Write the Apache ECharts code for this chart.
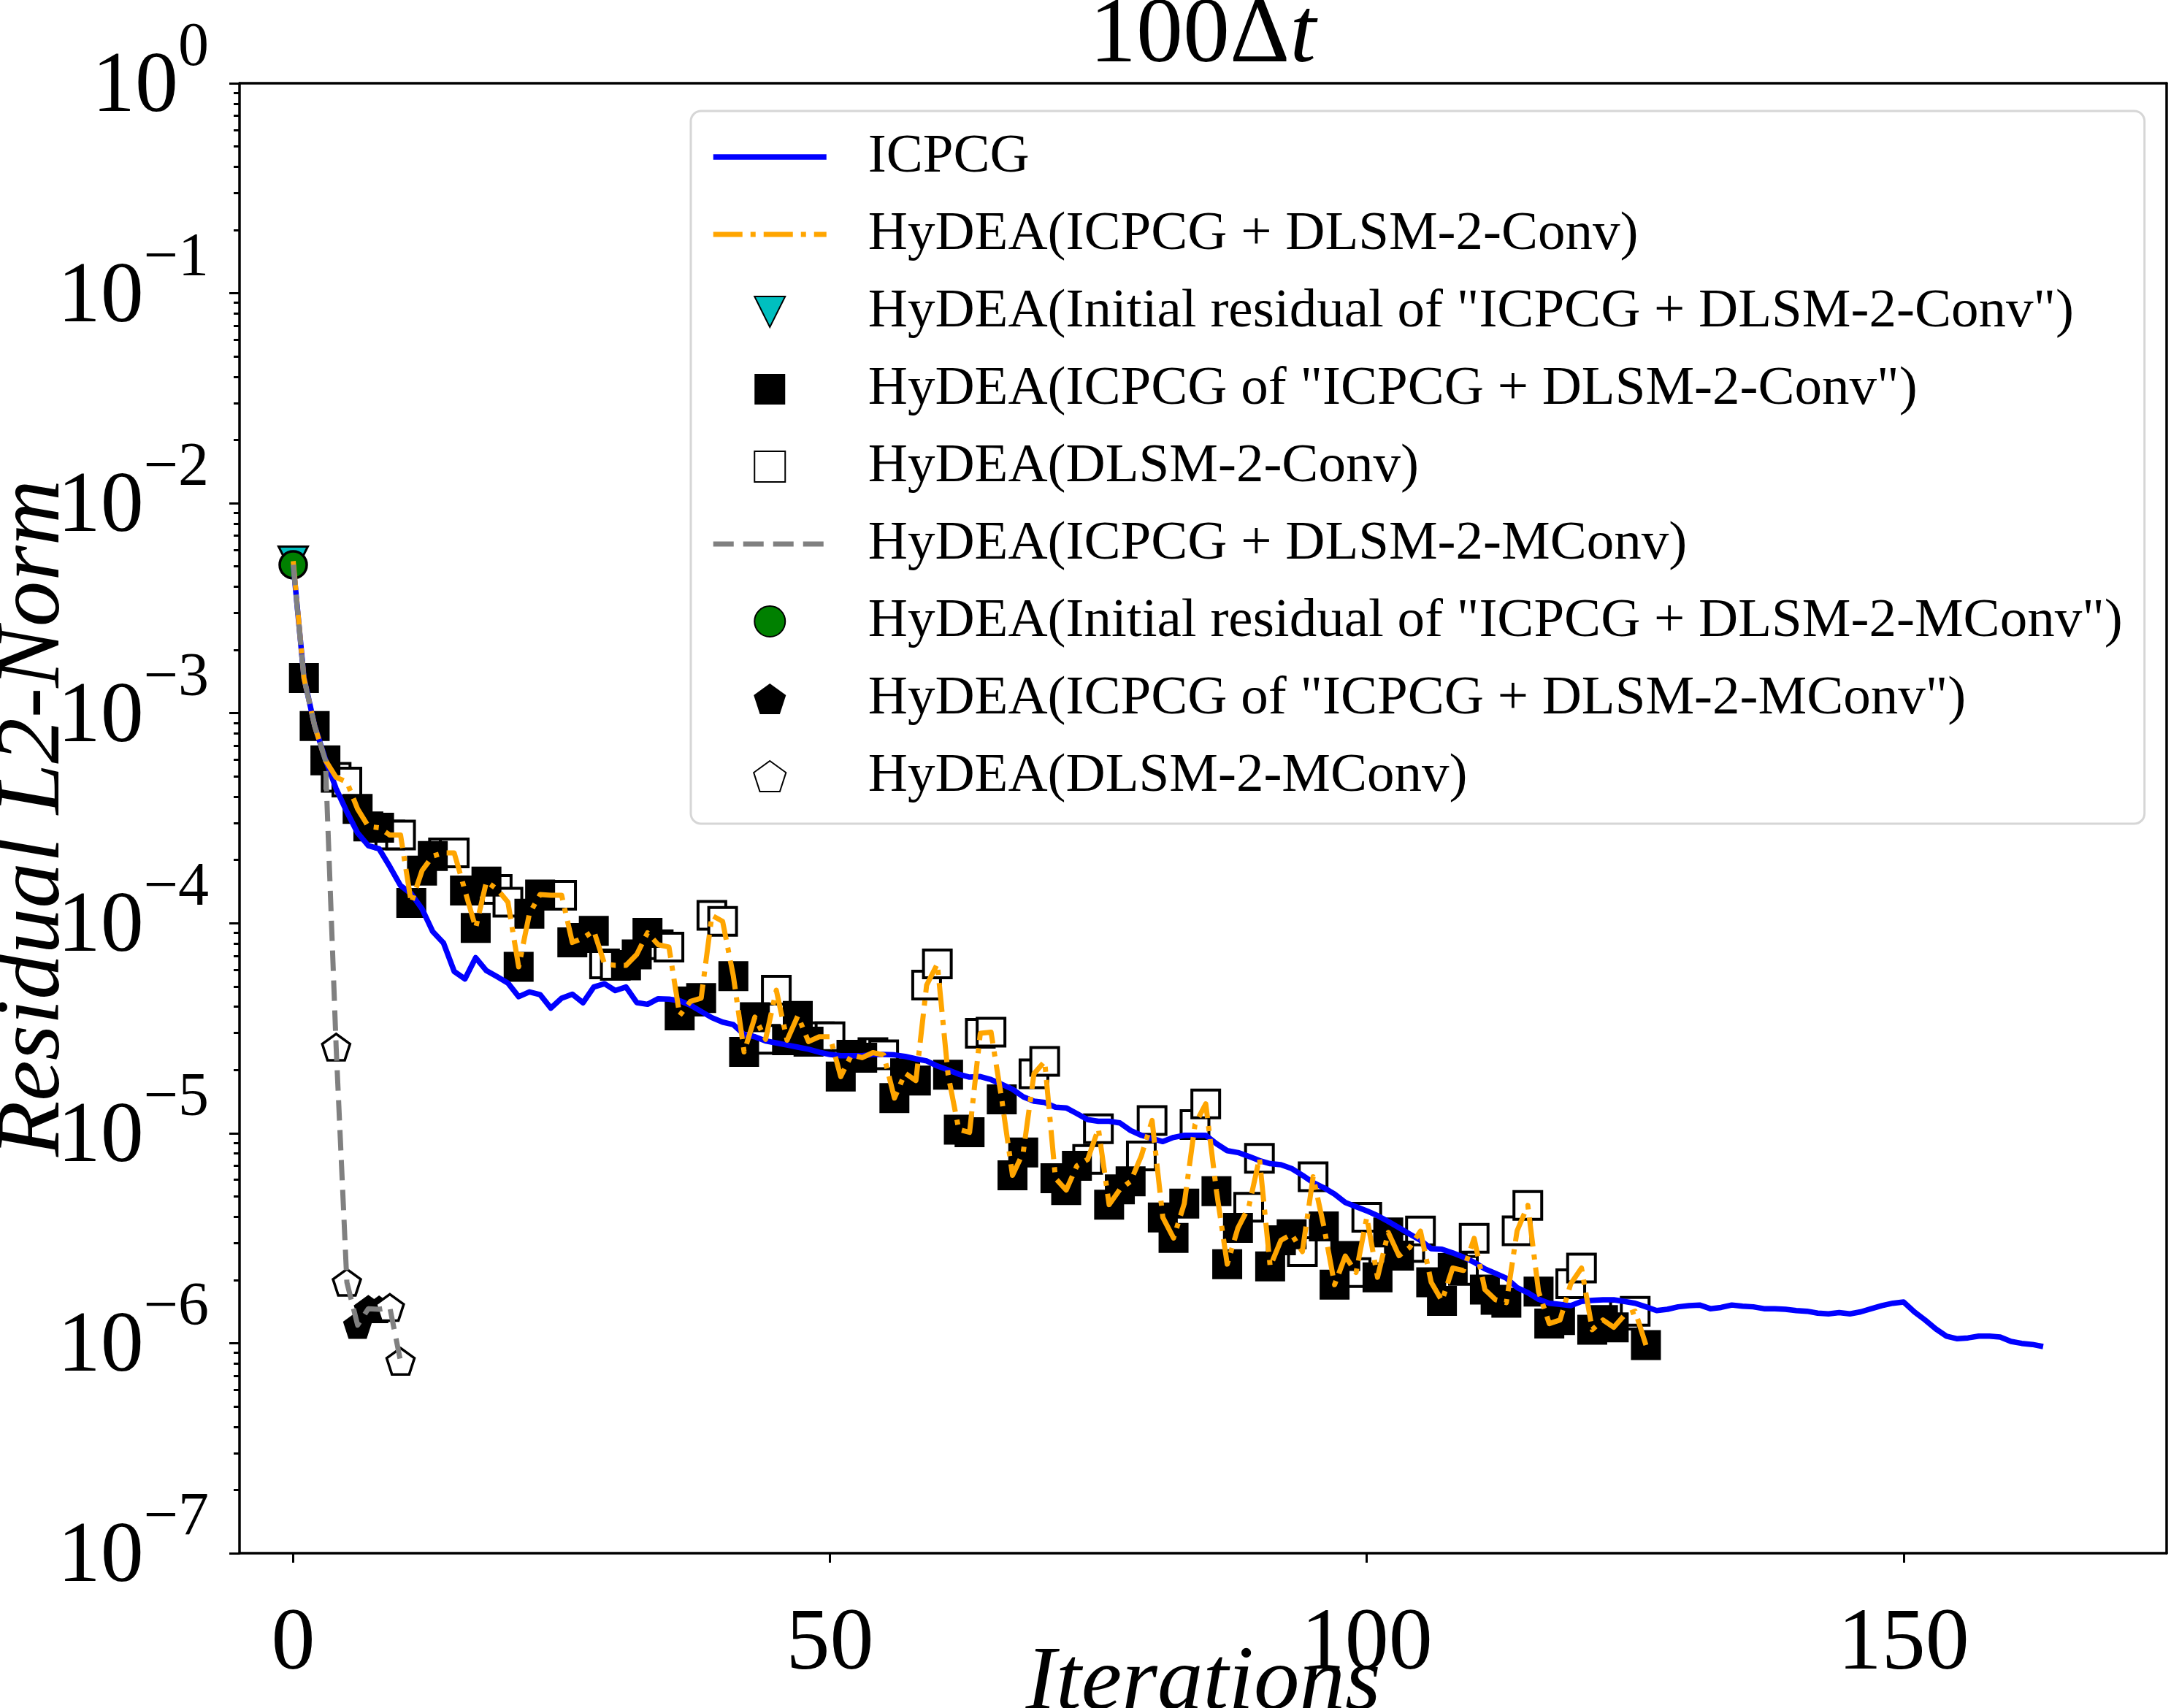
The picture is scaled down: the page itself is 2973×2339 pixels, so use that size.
<!DOCTYPE html>
<html>
<head>
<meta charset="utf-8">
<script src="https://cdn.jsdelivr.net/npm/echarts@6/dist/echarts.min.js"></script>
<style>
  html, body { margin: 0; padding: 0; background: #ffffff; }
  #chart { width: 2973px; height: 2339px; }
</style>
</head>
<body>
<div id="chart"></div>
<script>
// residual, one value per iteration (index = iteration)
const icpcgResidual = [
  5.13e-3, 1.48e-3, 8.71e-4, 6.03e-4, 4.37e-4, 3.39e-4, 2.69e-4, 2.34e-4, 2.26e-4, 1.86e-4,
  1.51e-4, 1.38e-4, 1.17e-4, 9.12e-5, 8.05e-5, 5.89e-5, 5.43e-5, 6.85e-5, 5.94e-5, 5.56e-5,
  5.19e-5, 4.47e-5, 4.71e-5, 4.57e-5, 3.94e-5, 4.39e-5, 4.59e-5, 4.18e-5, 4.97e-5, 5.15e-5,
  4.78e-5, 4.97e-5, 4.19e-5, 4.11e-5, 4.37e-5, 4.35e-5, 4.27e-5, 4.07e-5, 3.80e-5, 3.55e-5,
  3.38e-5, 3.29e-5, 2.95e-5, 2.88e-5, 2.75e-5, 2.69e-5, 2.63e-5, 2.57e-5, 2.51e-5, 2.43e-5,
  2.37e-5, 2.34e-5, 2.34e-5, 2.34e-5, 2.37e-5, 2.37e-5, 2.36e-5, 2.32e-5, 2.26e-5, 2.21e-5,
  2.09e-5, 2.00e-5, 1.91e-5, 1.85e-5, 1.86e-5, 1.80e-5, 1.71e-5, 1.62e-5, 1.49e-5, 1.42e-5,
  1.40e-5, 1.33e-5, 1.32e-5, 1.24e-5, 1.16e-5, 1.14e-5, 1.14e-5, 1.12e-5, 1.03e-5, 9.77e-6,
  9.44e-6, 9.12e-6, 9.55e-6, 9.77e-6, 9.77e-6, 9.77e-6, 8.91e-6, 8.26e-6, 8.09e-6, 7.76e-6,
  7.41e-6, 7.16e-6, 7.08e-6, 6.79e-6, 6.31e-6, 5.82e-6, 5.50e-6, 5.13e-6, 4.68e-6, 4.47e-6,
  4.27e-6, 4.05e-6, 3.80e-6, 3.55e-6, 3.31e-6, 3.09e-6, 2.82e-6, 2.80e-6, 2.69e-6, 2.57e-6,
  2.43e-6, 2.26e-6, 2.15e-6, 2.04e-6, 1.84e-6, 1.74e-6, 1.62e-6, 1.55e-6, 1.53e-6, 1.51e-6,
  1.58e-6, 1.60e-6, 1.61e-6, 1.61e-6, 1.58e-6, 1.55e-6, 1.49e-6, 1.43e-6, 1.45e-6, 1.49e-6,
  1.51e-6, 1.52e-6, 1.46e-6, 1.48e-6, 1.52e-6, 1.50e-6, 1.49e-6, 1.46e-6, 1.46e-6, 1.45e-6,
  1.43e-6, 1.42e-6, 1.39e-6, 1.38e-6, 1.40e-6, 1.38e-6, 1.41e-6, 1.46e-6, 1.51e-6, 1.55e-6,
  1.57e-6, 1.41e-6, 1.29e-6, 1.17e-6, 1.08e-6, 1.05e-6, 1.06e-6, 1.08e-6, 1.08e-6, 1.07e-6,
  1.02e-6, 9.98e-7, 9.86e-7, 9.64e-7
]

const convResidual = [
  5.30e-3, 1.47e-3, 8.69e-4, 5.97e-4, 4.95e-4, 4.70e-4, 3.50e-4, 2.89e-4, 2.85e-4, 2.63e-4,
  2.63e-4, 1.25e-4, 1.78e-4, 2.09e-4, 2.16e-4, 2.16e-4, 1.43e-4, 9.5e-5, 1.58e-4, 1.45e-4,
  1.26e-4, 6.2e-5, 1.11e-4, 1.37e-4, 1.36e-4, 1.36e-4, 8.1e-5, 8.5e-5, 9.2e-5, 6.4e-5,
  6.3e-5, 6.3e-5, 7.1e-5, 9.0e-5, 7.9e-5, 7.7e-5, 3.64e-5, 4.24e-5, 4.4e-5, 1.09e-4,
  1.02e-4, 5.6e-5, 2.44e-5, 3.57e-5, 2.8e-5, 4.8e-5, 2.77e-5, 3.62e-5, 2.73e-5, 2.88e-5,
  2.88e-5, 1.86e-5, 2.36e-5, 2.29e-5, 2.42e-5, 2.36e-5, 1.47e-5, 1.93e-5, 1.78e-5, 5.07e-5,
  6.4e-5, 1.9e-5, 1.04e-5, 1.01e-5, 2.99e-5, 3.03e-5, 1.45e-5, 6.3e-6, 8.1e-6, 1.92e-5,
  2.2e-5, 6.1e-6, 5.36e-6, 7.0e-6, 7.5e-6, 1.05e-5, 4.57e-6, 5.4e-6, 5.9e-6, 7.8e-6,
  1.15e-5, 3.97e-6, 3.17e-6, 4.62e-6, 1.1e-5, 1.38e-5, 5.3e-6, 2.38e-6, 3.54e-6, 4.44e-6,
  7.6e-6, 2.32e-6, 3.09e-6, 3.3e-6, 2.73e-6, 6.2e-6, 3.6e-6, 1.9e-6, 2.6e-6, 2.17e-6,
  3.98e-6, 2.06e-6, 3.37e-6, 2.61e-6, 2.86e-6, 3.42e-6, 1.95e-6, 1.59e-6, 2.28e-6, 2.22e-6,
  3.16e-6, 1.8e-6, 1.61e-6, 1.56e-6, 3.43e-6, 4.53e-6, 1.76e-6, 1.24e-6, 1.29e-6, 1.92e-6,
  2.28e-6, 1.16e-6, 1.29e-6, 1.19e-6, 1.36e-6, 1.42e-6, 9.8e-7
]
// iterations done by the DLSM-2-Conv network (the rest after 0 are ICPCG)
const convDlsmIters = [
  4, 5, 9, 10, 14, 15, 19, 20, 24, 25, 29, 30, 34, 35, 39, 40, 44, 45, 49, 50,
  54, 55, 59, 60, 64, 65, 69, 70, 74, 75, 79, 80, 84, 85, 89, 90, 94, 95, 99, 100,
  104, 105, 109, 110, 114, 115, 119, 120, 124, 125
]

const mconvResidual = [5.09e-3, 1.47e-3, 8.69e-4, 5.97e-4, 2.57e-5, 1.95e-6, 1.22e-6, 1.46e-6, 1.45e-6, 1.48e-6, 8.2e-7]
const mconvDlsmIters = [4, 5, 9, 10]

const xTicks = [0, 50, 100, 150]
const yTicks = [1e-7, 1e-6, 1e-5, 1e-4, 1e-3, 1e-2, 1e-1, 1]

const names = [
  'ICPCG',
  'HyDEA(ICPCG + DLSM-2-Conv)',
  'HyDEA(Initial residual of "ICPCG + DLSM-2-Conv")',
  'HyDEA(ICPCG of "ICPCG + DLSM-2-Conv")',
  'HyDEA(DLSM-2-Conv)',
  'HyDEA(ICPCG + DLSM-2-MConv)',
  'HyDEA(Initial residual of "ICPCG + DLSM-2-MConv")',
  'HyDEA(ICPCG of "ICPCG + DLSM-2-MConv")',
  'HyDEA(DLSM-2-MConv)'
]

const yMinorTicks = []
for (let e = -7; e < 0; e++) {
  for (let k = 2; k <= 9; k++) yMinorTicks.push(k * Math.pow(10, e))
}

const serif = 'Liberation Serif'
const square = 'path://M0,0L1,0L1,1L0,1Z'
const triangleDown = 'path://M-1,-1L1,-1L0,1Z'
const pentagon = 'path://M0,-1L0.951,-0.309L0.588,0.809L-0.588,0.809L-0.951,-0.309Z'

const pairs = (arr) => arr.map((v, i) => [i, v])
const convPoints = pairs(convResidual)
const mconvPoints = pairs(mconvResidual)

const convDlsm = convPoints.filter(p => convDlsmIters.includes(p[0]))
const convIcpcg = convPoints.filter(p => p[0] > 0 && !convDlsmIters.includes(p[0]))
const mconvDlsm = mconvPoints.filter(p => mconvDlsmIters.includes(p[0]))
const mconvIcpcg = mconvPoints.filter(p => p[0] > 0 && !mconvDlsmIters.includes(p[0]))

const axisLine = { show: true, onZero: false, lineStyle: { color: '#000', width: 3.5 } }

// exponent on a short first line, "10" below it; a transparent copy of the
// exponent keeps "10" just left of where the exponent sits
const decadeLabel = (v) => {
  const e = Math.round(Math.log10(v))
  const sup = e === 0 ? '0' : '\u2212' + (-e)
  return '{s|' + sup + '}\n{b|10}{h|' + sup + '}'
}

const option = {
  animation: false,
  backgroundColor: '#ffffff',
  textStyle: { fontFamily: serif },
  graphic: [{
    type: 'text',
    x: 1647,
    y: 50,
    style: {
      text: '{a|100Δ}{b|t}',
      align: 'center',
      verticalAlign: 'middle',
      rich: {
        a: { fontFamily: serif, fontSize: 128, fill: '#000', color: '#000' },
        b: { fontFamily: serif, fontSize: 128, fontStyle: 'italic', fill: '#000', color: '#000' }
      }
    }
  }],
  grid: { left: 328, right: 6, top: 114, bottom: 212, containLabel: false, outerBoundsMode: 'none' },
  legend: {
    orient: 'vertical',
    left: 946,
    top: 152,
    data: names,
    itemWidth: 155,
    itemHeight: 42,
    itemGap: 26,
    padding: [23, 30, 25, 27],
    symbolKeepAspect: true,
    lineStyle: { width: 'inherit' },
    backgroundColor: 'rgba(255,255,255,0.8)',
    borderColor: '#d6d6d6',
    borderWidth: 3,
    borderRadius: 14,
    textStyle: { fontFamily: serif, fontSize: 75, lineHeight: 80, color: '#000', padding: [0, 0, 0, 52] }
  },
  xAxis: [{
    type: 'value',
    min: -5,
    max: 174.5,
    name: 'Iterations',
    nameLocation: 'middle',
    nameGap: 118,
    nameMoveOverlap: false,
    nameTextStyle: { fontFamily: serif, fontSize: 125, fontStyle: 'italic', color: '#000' },
    axisLine,
    axisTick: { show: true, customValues: xTicks, length: 13, lineStyle: { color: '#000', width: 3 } },
    axisLabel: { customValues: xTicks, margin: 66, fontFamily: serif, fontSize: 120, color: '#000' },
    splitLine: { show: false }
  }, {
    type: 'value',
    position: 'top',
    min: -5,
    max: 174.5,
    axisLine,
    axisTick: { show: false },
    axisLabel: { show: false },
    splitLine: { show: false }
  }],
  yAxis: [{
    type: 'log',
    logBase: 10,
    min: 1e-7,
    max: 1,
    name: 'Residual L2-Norm',
    nameLocation: 'middle',
    nameGap: 218,
    nameMoveOverlap: false,
    nameTextStyle: { fontFamily: serif, fontSize: 125, fontStyle: 'italic', color: '#000' },
    axisLine,
    axisTick: { show: true, customValues: yTicks, length: 14, lineStyle: { color: '#000', width: 3 } },
    axisLabel: {
      customValues: yTicks,
      margin: 42,
      formatter: decadeLabel,
      rich: {
        s: { fontFamily: serif, fontSize: 84, lineHeight: 14, color: '#000', align: 'right' },
        b: { fontFamily: serif, fontSize: 118, lineHeight: 94, color: '#000', align: 'right' },
        h: { fontFamily: serif, fontSize: 84, lineHeight: 94, color: 'rgba(0,0,0,0)', align: 'right' }
      }
    },
    splitLine: { show: false }
  }, {
    type: 'log',
    logBase: 10,
    min: 1e-7,
    max: 1,
    position: 'left',
    axisLine: { show: false, onZero: false },
    axisTick: { show: true, customValues: yMinorTicks, length: 8, lineStyle: { color: '#000', width: 3 } },
    axisLabel: { show: false },
    splitLine: { show: false }
  }, {
    type: 'log',
    logBase: 10,
    min: 1e-7,
    max: 1,
    position: 'right',
    axisLine,
    axisTick: { show: false },
    axisLabel: { show: false },
    splitLine: { show: false }
  }],
  series: [
    {
      name: names[0],
      type: 'line',
      data: pairs(icpcgResidual),
      symbol: 'none',
      lineStyle: { color: '#0000ff', width: 7.5, join: 'round' },
      itemStyle: { color: '#0000ff', opacity: 0 }
    },
    {
      name: names[1],
      type: 'line',
      data: convPoints,
      symbol: 'none',
      lineStyle: { color: '#ffa500', width: 7, type: [40, 11, 7, 11], join: 'round' },
      itemStyle: { color: '#ffa500', opacity: 0 }
    },
    {
      name: names[5],
      type: 'line',
      data: mconvPoints,
      symbol: 'none',
      lineStyle: { color: '#808080', width: 7, type: [28, 13], join: 'round' },
      itemStyle: { color: '#808080', opacity: 0 }
    },
    {
      name: names[4],
      type: 'scatter',
      data: convDlsm,
      symbol: square,
      symbolSize: 38,
      itemStyle: { color: '#ffffff', borderColor: '#000', borderWidth: 4, opacity: 1 }
    },
    {
      name: names[3],
      type: 'scatter',
      data: convIcpcg,
      symbol: square,
      symbolSize: 41,
      itemStyle: { color: '#000000', opacity: 1 }
    },
    {
      name: names[2],
      type: 'scatter',
      data: [[0, convResidual[0]]],
      symbol: triangleDown,
      symbolSize: 40,
      itemStyle: { color: '#00bfbf', borderColor: '#000', borderWidth: 3, opacity: 1 }
    },
    {
      name: names[6],
      type: 'scatter',
      data: [[0, mconvResidual[0]]],
      symbol: 'circle',
      symbolSize: 37,
      itemStyle: { color: '#008000', borderColor: '#000', borderWidth: 3.5, opacity: 1 }
    },
    {
      name: names[7],
      type: 'scatter',
      data: mconvIcpcg,
      symbol: pentagon,
      symbolSize: [40, 38],
      itemStyle: { color: '#000000', opacity: 1 }
    },
    {
      name: names[8],
      type: 'scatter',
      data: mconvDlsm,
      symbol: pentagon,
      symbolSize: [38, 36],
      itemStyle: { color: '#ffffff', borderColor: '#000', borderWidth: 3.5, opacity: 1 }
    }
  ]
}

const chart = echarts.init(document.getElementById('chart'))
chart.setOption(option)
</script>
</body>
</html>
